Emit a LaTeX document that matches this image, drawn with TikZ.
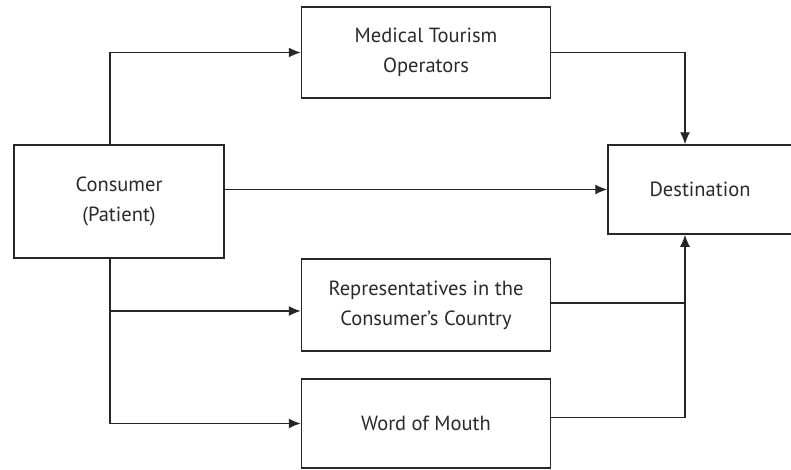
\documentclass[tikz,border=0pt]{standalone}
\usepackage{fontspec}
\setmainfont{PT Sans}
\usepackage{xcolor}
\usepackage{tikz}
\usetikzlibrary{arrows.meta,positioning,calc}
\definecolor{ink}{HTML}{262626}
\definecolor{txt}{HTML}{2A2A2A}
\tikzset{
  box/.style={draw=ink,line width=1.5pt,fill=white,inner sep=4pt,align=center,
    font=\fontsize{20.5}{30}\selectfont,text=txt},
  flow/.style={-{Latex[length=12pt,width=10pt]},line width=1.3pt,draw=ink},
  link/.style={line width=1.3pt,draw=ink},
}
\begin{document}
\begin{tikzpicture}[x=1pt,y=-1pt]
  \useasboundingbox (0,0) rectangle (791,469);
  % boxes
  \node[box,minimum width=210pt,minimum height=113pt] (cons) at (119,201.5){Consumer\\(Patient)};
  \node[box,minimum width=249pt,minimum height=91pt]  (mto)  at (426,52.5){Medical Tourism\\Operators};
  \node[box,minimum width=249pt,minimum height=92pt]  (rep)  at (426,305){Representatives in the\\Consumer's Country};
  \node[box,minimum width=249pt,minimum height=89pt]  (wom)  at (426,423.5){Word of Mouth};
  \node[box,minimum width=184pt,minimum height=89pt]  (dest) at (700,189.5){Destination};
  % trunk on the left, bus on the right
  \coordinate (trunk) at (110,0);
  \coordinate (bus) at (685,0);
  \draw[flow] (trunk |- cons.north) |- (mto.west);
  \draw[flow] (cons.east |- dest.west) -- (dest.west);
  \draw[flow] (trunk |- cons.south) |- (wom.west);
  \draw[flow] ($(trunk |- rep.west)+(0,6)$) -- ($(rep.west)+(0,6)$);
  \draw[flow] (mto.east) -| (bus |- dest.north);
  \draw[flow] ($(wom.east)+(0,-6)$) -| (bus |- dest.south);
  \draw[link] ($(rep.east)+(0,-2)$) -- (bus |- {$(rep.east)+(0,-2)$});
\end{tikzpicture}
\end{document}
